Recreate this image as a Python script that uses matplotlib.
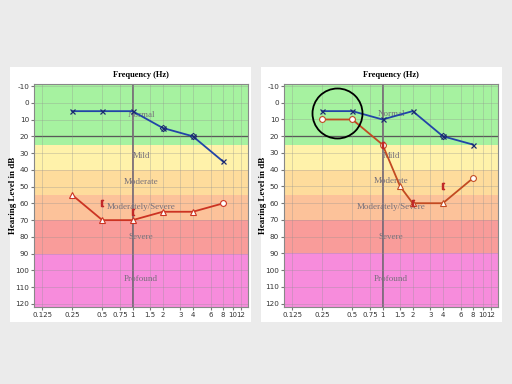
import numpy as np
import matplotlib
matplotlib.use("Agg")
import matplotlib.pyplot as plt
from matplotlib.patches import Rectangle

plt.rcParams["axes.unicode_minus"] = False

# frequency axis (kHz) and audiogram data
freq_ticks = [0.125, 0.25, 0.5, 0.75, 1, 1.5, 2, 3, 4, 6, 8, 10, 12]
freq_labels = ["0.125", "0.25", "0.5", "0.75", "1", "1.5", "2", "3", "4", "6", "8", "10", "12"]
db_ticks = list(range(-10, 130, 10))

# hearing loss bands: (label, top, bottom)
band_names = ["Normal", "Mild", "Moderate", "Moderately/Severe", "Severe", "Profound"]
band_top = [-15, 25, 40, 55, 70, 90]
band_bottom = [25, 40, 55, 70, 90, 125]
band_label_db = [7, 32, 47, 62, 80, 105]

# left audiogram
left_blue_f = [0.25, 0.5, 1, 2, 4, 8]
left_blue_db = [5, 5, 5, 15, 20, 35]
left_red_f = [0.25, 0.5, 1, 2, 4, 8]
left_red_db = [55, 70, 70, 65, 65, 60]
left_bone_f = [0.5, 1]
left_bone_db = [60, 65]

# right audiogram
right_blue_f = [0.25, 0.5, 1, 2, 4, 8]
right_blue_db = [5, 5, 10, 5, 20, 25]
right_red_f = [0.25, 0.5, 1, 1.5, 2, 4, 8]
right_red_db = [10, 10, 25, 50, 60, 60, 45]
right_bone_f = [1, 2, 4]
right_bone_db = [25, 60, 50]

band_colors = ["#a6f2a0", "#fff2aa", "#fedc9c", "#fcc29a", "#f99c9a", "#f78cdc"]
serif = ["Liberation Serif", "DejaVu Serif"]

fig = plt.figure(figsize=(5.12, 3.84), dpi=100)
fig.patch.set_facecolor("#ebebeb")
for x0 in (10, 261):
    fig.patches.append(Rectangle((x0 / 512, 62 / 384), 241 / 512, 255 / 384,
                                 transform=fig.transFigure, facecolor="white",
                                 edgecolor="none", zorder=-1))


def audiogram(ax, blue_f, blue_db, red_f, red_db, red_sym, bone_f, bone_db,
              red_color, masked_blue):
    ax.set_xscale("log", base=2)
    ax.set_xlim(0.104, 14.2)
    ax.set_ylim(121.8, -11.2)
    for name, t, b, c in zip(band_names, band_top, band_bottom, band_colors):
        ax.axhspan(t, b, color=c, zorder=0, lw=0)
    for name, yv in zip(band_names, band_label_db):
        ax.text(1.22, yv, name, ha="center", va="center", fontsize=6.5,
                color="#756f7a", family=serif, zorder=1)
    ax.set_xticks(freq_ticks)
    ax.set_xticklabels(freq_labels)
    ax.minorticks_off()
    ax.set_yticks(db_ticks)
    ax.grid(True, color="#909090", lw=0.5, alpha=0.45, zorder=0.5)
    ax.axhline(20, color="#404040", lw=0.9, zorder=0.6)
    ax.axvline(1, color="#706070", lw=1.2, zorder=0.6)
    ax.tick_params(length=2, pad=1.5, labelsize=5.2, labelcolor="#333333",
                   color="#777777")
    ax.tick_params(axis="x", labelsize=5)
    for s in ax.spines.values():
        s.set_color("#888888")
        s.set_linewidth(0.8)
    ax.set_title("Frequency (Hz)", fontsize=6, fontweight="bold", family=serif, pad=5)
    ax.set_ylabel("Hearing Level in dB", fontsize=6.5, fontweight="bold",
                  family=serif)
    ax.yaxis.set_label_coords(-0.08, 0.5)

    # air conduction, blue ear
    ax.plot(blue_f, blue_db, color="#2244a8", lw=1.3, zorder=3)
    ax.plot(blue_f, blue_db, ls="none", marker="x", ms=3.6, mew=0.9,
            color="#1a2a70", zorder=4)
    for f in masked_blue:
        i = blue_f.index(f)
        ax.plot(f, blue_db[i], ls="none", marker="D", ms=3.3, mew=0.7,
                mfc="none", mec="#1a2a70", zorder=4)

    # air conduction, red ear
    ax.plot(red_f, red_db, color=red_color, lw=1.3, zorder=3)
    for f, d, m in zip(red_f, red_db, red_sym):
        ax.plot(f, d, ls="none", marker=m, ms=4.2, mew=0.8, mfc="white",
                mec=red_color, zorder=4)

    # bone conduction
    ax.plot(bone_f, bone_db, ls="none", marker="$[$", ms=5, color="#c02828",
            zorder=4)


ax1 = fig.add_axes([34 / 512, 77 / 384, 214 / 512, 223 / 384])
audiogram(ax1, left_blue_f, left_blue_db, left_red_f, left_red_db,
          ["^", "^", "^", "^", "^", "o"], left_bone_f, left_bone_db,
          "#cc3322", [2, 4])

ax2 = fig.add_axes([284 / 512, 77.3 / 384, 214 / 512, 222.7 / 384])
audiogram(ax2, right_blue_f, right_blue_db, right_red_f, right_red_db,
          ["o", "o", "o", "^", "^", "^", "o"], right_bone_f, right_bone_db,
          "#c24a22", [4])
ax2.plot(0.354, 5.9, ls="none", marker="o", ms=36, mfc="none", mec="black",
         mew=1.3, zorder=5)

fig.savefig("out.png", dpi=100, facecolor=fig.get_facecolor())
